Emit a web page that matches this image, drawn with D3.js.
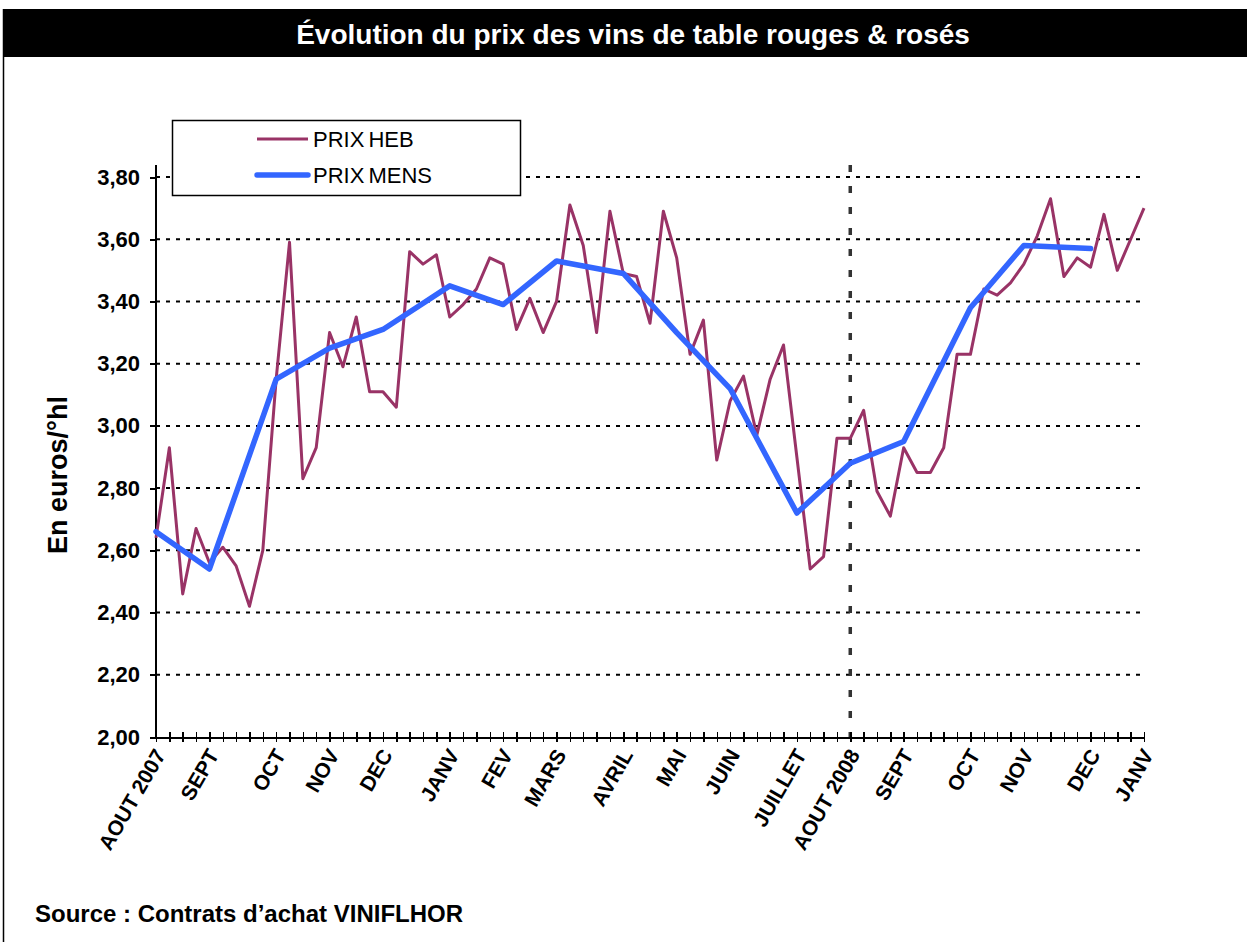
<!doctype html>
<html lang="fr">
<head>
<meta charset="UTF-8">
<title>Évolution du prix des vins de table rouges &amp; rosés</title>
<script src="https://d3js.org/d3.v7.min.js"></script>
<style>
body { margin: 0; background-color: #ffffff; font-family: "Liberation Sans", Arial, sans-serif; }
svg { display: block; }
.axis path, .axis line { stroke: #000; stroke-width: 2; shape-rendering: crispEdges; }
.axis text { font-family: "Liberation Sans", Arial, sans-serif; font-weight: bold; font-size: 22px; fill: #000; }
.grid line { stroke: #000; stroke-width: 2; stroke-dasharray: 4,6; }
path.heb { fill: none; stroke: #993366; stroke-width: 3; stroke-linejoin: round; }
path.mens { fill: none; stroke: #3366ff; stroke-width: 5.5; stroke-linejoin: round; stroke-linecap: round; }
</style>
</head>
<body>
<div id="plot"></div>
<script>

// weekly prices (PRIX HEB), one value per week from AOUT 2007 to JANV 2009
var hebValues = [
	2.64, 2.93, 2.46, 2.67, 2.56, 2.61, 2.55, 2.42, 2.60, 3.15,
	3.59, 2.83, 2.93, 3.30, 3.19, 3.35, 3.11, 3.11, 3.06, 3.56,
	3.52, 3.55, 3.35, 3.39, 3.44, 3.54, 3.52, 3.31, 3.41, 3.30,
	3.40, 3.71, 3.58, 3.30, 3.69, 3.49, 3.48, 3.33, 3.69, 3.54,
	3.23, 3.34, 2.89, 3.08, 3.16, 2.97, 3.15, 3.26, 2.90, 2.54,
	2.58, 2.96, 2.96, 3.05, 2.79, 2.71, 2.93, 2.85, 2.85, 2.93,
	3.23, 3.23, 3.44, 3.42, 3.46, 3.52, 3.61, 3.73, 3.48, 3.54,
	3.51, 3.68, 3.50, 3.60, 3.70
];

// monthly labels and the week where each month starts
var monthLabels = ["AOUT 2007", "SEPT", "OCT", "NOV", "DEC", "JANV", "FEV", "MARS", "AVRIL",
	"MAI", "JUIN", "JUILLET", "AOUT 2008", "SEPT", "OCT", "NOV", "DEC", "JANV"];
var monthWeeks = [0, 4, 9, 13, 17, 22, 26, 30, 35, 39, 43, 48, 52, 56, 61, 65, 70, 74];

// monthly prices (PRIX MENS), none for the last month
var mensValues = [2.66, 2.54, 3.15, 3.25, 3.31, 3.45, 3.39, 3.53, 3.49,
	3.30, 3.12, 2.72, 2.88, 2.95, 3.38, 3.58, 3.57];

var yTicks = [2.0, 2.2, 2.4, 2.6, 2.8, 3.0, 3.2, 3.4, 3.6, 3.8];
var seriesNames = ["PRIX HEB", "PRIX MENS"];
var markerWeek = 52;

var width = 1247;
var height = 942;
var plotLeft = 156, plotRight = 1144, plotTop = 165, plotBottom = 737;

var svg = d3.select("#plot").append("svg")
.attr("width", width)
.attr("height", height);

var fr = d3.formatLocale({ decimal: ",", thousands: " ", grouping: [3], currency: ["", " €"] });

// frame and title bar
svg.append("line")
.attr("x1", 3.5).attr("x2", 3.5)
.attr("y1", 9).attr("y2", height)
.style("stroke", "#000").style("stroke-width", 1.5);

svg.append("rect")
.attr("x", 3).attr("y", 9)
.attr("width", width - 3).attr("height", 48)
.style("fill", "#000");

svg.append("text")
.attr("x", 633).attr("y", 44)
.attr("text-anchor", "middle")
.style("font-weight", "bold")
.style("font-size", "28px")
.style("fill", "#fff")
.text("Évolution du prix des vins de table rouges & rosés");

var xScale = d3.scaleLinear().domain([0, hebValues.length - 1])
	.range([plotLeft, plotRight]);

var yScale = d3.scaleLinear().domain([2, 3.8])
	.range([plotBottom, 177]);

// horizontal dotted grid
svg.append("g")
.attr("class", "grid")
.selectAll("line")
.data(yTicks.slice(1))
.enter().append("line")
.attr("x1", plotLeft).attr("x2", plotRight)
.attr("y1", function (d) { return yScale(d); })
.attr("y2", function (d) { return yScale(d); });

// dashed marker at AOUT 2008
svg.append("line")
.attr("x1", xScale(markerWeek)).attr("x2", xScale(markerWeek))
.attr("y1", plotTop).attr("y2", plotBottom)
.style("stroke", "#333").style("stroke-width", 3.5)
.style("stroke-dasharray", "7,14");

// y axis
var yAxis = d3.axisLeft(yScale)
	.tickValues(yTicks)
	.tickSize(6)
	.tickPadding(10)
	.tickFormat(fr.format(".2f"));

var gy = svg.append("g")
.attr("class", "axis")
.attr("transform", "translate(" + plotLeft + ",0)")
.call(yAxis);
gy.select(".domain").remove();
gy.append("line")
.attr("x1", 0).attr("x2", 0)
.attr("y1", plotTop).attr("y2", plotBottom + 1);

// x axis with cross ticks at every week
var xAxis = d3.axisBottom(xScale)
	.tickValues(d3.range(hebValues.length))
	.tickSizeInner(5)
	.tickSizeOuter(0)
	.tickFormat("");

var gx = svg.append("g")
.attr("class", "axis")
.attr("transform", "translate(0," + plotBottom + ")")
.call(xAxis);
gx.selectAll(".tick line").attr("y1", -5).style("stroke-width", 1.5);

gx.selectAll(".month")
.data(monthLabels)
.enter().append("text")
.attr("class", "month")
.attr("text-anchor", "end")
.attr("transform", function (d, i) {
	return "translate(" + (xScale(monthWeeks[i]) + 4) + ",14) rotate(-60)";
})
.attr("dy", "0.35em")
.style("font-size", "21px")
.text(function (d) { return d; });

// axis title
svg.append("text")
.attr("transform", "translate(67,475) rotate(-90)")
.attr("text-anchor", "middle")
.style("font-weight", "bold")
.style("font-size", "27px")
.text("En euros/°hl");

// series
var hebLine = d3.line()
	.x(function (d, i) { return xScale(i); })
	.y(function (d) { return yScale(d); });

svg.append("path")
.datum(hebValues)
.attr("class", "heb")
.attr("d", hebLine);

var mensLine = d3.line()
	.x(function (d, i) { return xScale(monthWeeks[i]); })
	.y(function (d) { return yScale(d); });

svg.append("path")
.datum(mensValues)
.attr("class", "mens")
.attr("d", mensLine);

// legend
var legend = svg.append("g");
legend.append("rect")
.attr("x", 172.5).attr("y", 120.5)
.attr("width", 348).attr("height", 75)
.style("fill", "#fff").style("stroke", "#000").style("stroke-width", 1.5);

var legendClass = ["heb", "mens"];
seriesNames.forEach(function (name, i) {
	var ly = 139 + i * 36;
	legend.append("path")
	.attr("class", legendClass[i])
	.attr("d", "M257," + ly + "H308");
	legend.append("text")
	.attr("x", 313).attr("y", ly)
	.attr("dy", "0.35em")
	.style("font-size", "22px")
	.style("word-spacing", "-2px")
	.text(name);
});

// source
svg.append("text")
.attr("x", 35).attr("y", 922)
.style("font-weight", "bold")
.style("font-size", "24px")
.text("Source : Contrats d’achat VINIFLHOR");

</script>
</body>
</html>
